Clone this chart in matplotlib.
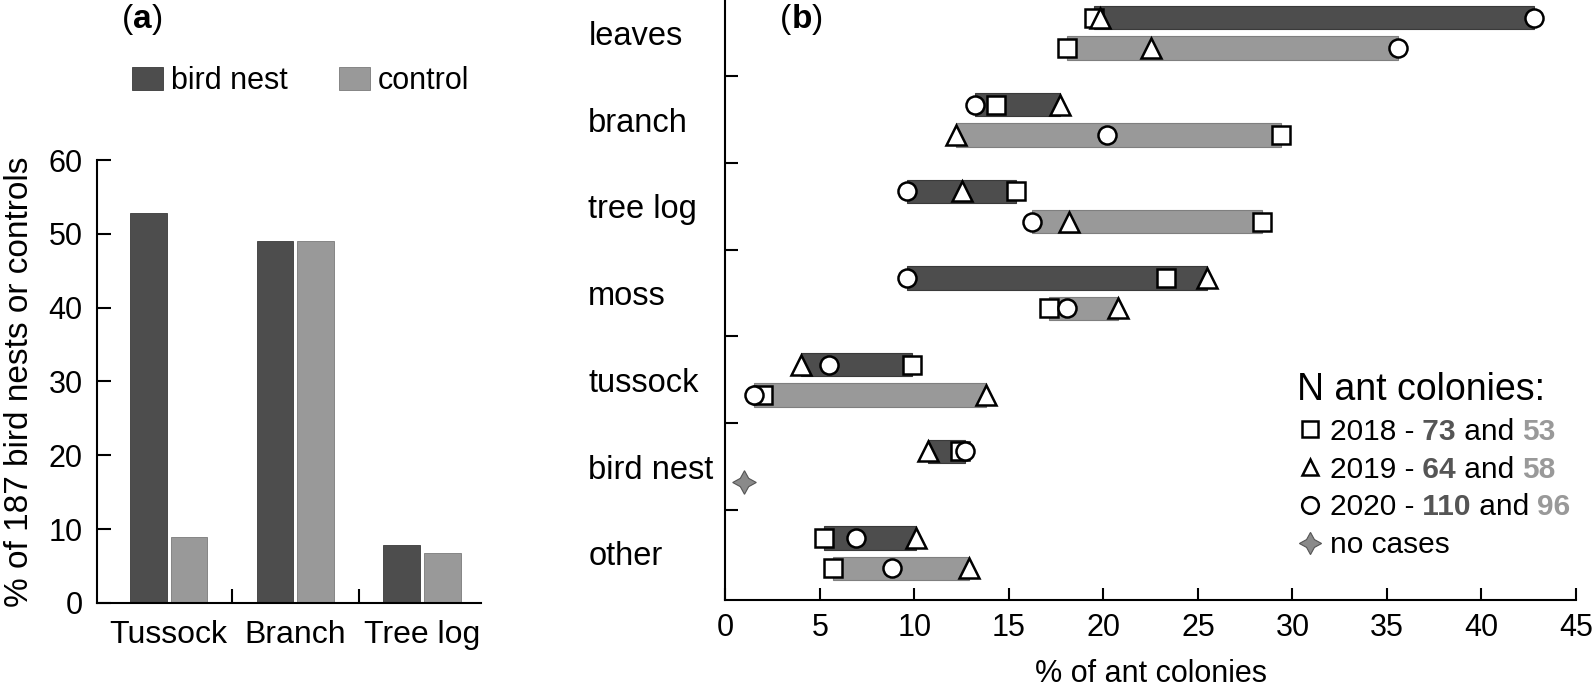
import matplotlib
matplotlib.use('Agg')
import matplotlib.pyplot as plt
import numpy as np
from matplotlib.lines import Line2D

plt.rcParams['font.family'] = ['Liberation Sans', 'DejaVu Sans']
narrow = ['Liberation Sans Narrow', 'Liberation Sans', 'DejaVu Sans']

DARK = '#4d4d4d'
LIGHT = '#999999'

# ---- panel (a) data ----
groups = ['Tussock', 'Branch', 'Tree log']
nest_pct = [52.8, 49.0, 7.9]
ctrl_pct = [8.9, 49.0, 6.8]

# ---- panel (b) data (top to bottom) ----
substrates = ['leaves', 'branch', 'tree log', 'moss', 'tussock', 'bird nest', 'other']
nest_2018 = [19.5, 14.3, 15.4, 23.3, 9.9, 12.4, 5.2]
nest_2019 = [19.8, 17.7, 12.5, 25.5, 4.0, 10.7, 10.1]
nest_2020 = [42.8, 13.2, 9.6, 9.6, 5.5, 12.7, 6.9]
ctrl_2018 = [18.1, 29.4, 28.4, 17.1, 2.0, np.nan, 5.7]
ctrl_2019 = [22.5, 12.2, 18.2, 20.8, 13.8, np.nan, 12.9]
ctrl_2020 = [35.6, 20.2, 16.2, 18.1, 1.5, np.nan, 8.8]
no_cases_x = [1.0]
no_cases_cat = ['bird nest']

n_nest = ['73', '64', '110']
n_ctrl = ['53', '58', '96']
years = ['2018', '2019', '2020']

fig = plt.figure(figsize=(15.94, 6.93), dpi=100)

# ================= (a) =================
ax1 = fig.add_axes([0.0606, 0.130, 0.2414, 0.639])
x = np.arange(len(groups))
ax1.bar(x - 0.16, nest_pct, 0.29, color=DARK, edgecolor='#3a3a3a', linewidth=0.6, label='bird nest')
ax1.bar(x + 0.16, ctrl_pct, 0.29, color=LIGHT, edgecolor='#7a7a7a', linewidth=0.6, label='control')
ax1.set_xlim(-0.57, 2.47)
ax1.set_ylim(0, 60)
ax1.set_yticks(range(0, 61, 10))
ax1.set_xticks(x)
ax1.set_xticklabels(groups, fontsize=23)
ax1.set_xticks([0.5, 1.5], minor=True)
ax1.tick_params(axis='x', which='major', length=0, pad=12)
ax1.tick_params(axis='x', which='minor', direction='in', length=10, width=1.5)
ax1.tick_params(axis='y', direction='in', length=10, width=1.5, labelsize=22, pad=10)
for s in ['top', 'right']:
    ax1.spines[s].set_visible(False)
for s in ['left', 'bottom']:
    ax1.spines[s].set_linewidth(1.5)
ax1.set_ylabel('% of 187 bird nests or controls', fontsize=24)
ax1.yaxis.set_label_coords(-0.16, 0.5)
ax1.legend(loc='center', bbox_to_anchor=(0.53, 1.178), ncol=2, frameon=False,
           fontsize=22, handlelength=1.0, handleheight=0.8, columnspacing=1.7,
           handletextpad=0.25)

t = fig.text(0.0765, 0.972, '(', fontsize=24, va='center')
ta = ax1.annotate('a', xy=(1, 0), xycoords=t, va='bottom', fontsize=24, fontweight='bold')
ax1.annotate(')', xy=(1, 0), xycoords=ta, va='bottom', fontsize=24)

# ================= (b) =================
ax2 = fig.add_axes([0.455, 0.134, 0.5337, 0.866])
ypos = np.arange(len(substrates))[::-1]
off = 0.175
bh = 0.27

nest = np.array([nest_2018, nest_2019, nest_2020])
ctrl = np.array([ctrl_2018, ctrl_2019, ctrl_2020])

nmin, nmax = nest.min(axis=0), nest.max(axis=0)
ax2.barh(ypos + off, nmax - nmin, bh, left=nmin, color=DARK, edgecolor='#3a3a3a', linewidth=0.8, zorder=2)
ok = ~np.isnan(ctrl[0])
cmin, cmax = np.nanmin(ctrl[:, ok], axis=0), np.nanmax(ctrl[:, ok], axis=0)
ax2.barh(ypos[ok] - off, cmax - cmin, bh, left=cmin, color=LIGHT, edgecolor='#7f7f7f', linewidth=0.8, zorder=2)

mk = dict(ls='none', mfc='white', mec='black', mew=1.8, zorder=3)
markers = ['s', '^', 'o']
sizes = [13, 14, 13]
for i in range(3):
    ax2.plot(nest[i], ypos + off, marker=markers[i], ms=sizes[i], **mk)
    ax2.plot(ctrl[i], ypos - off, marker=markers[i], ms=sizes[i], **mk)

star_y = [ypos[substrates.index(c)] - off for c in no_cases_cat]
ax2.plot(no_cases_x, star_y, ls='none', marker=(4, 1, 0), ms=17, mfc='#8a8a8a', mec='#555555', mew=0.8, zorder=3)

ax2.set_xlim(0, 45)
ax2.set_ylim(-0.54, 6.38)
ax2.set_xticks(range(0, 46, 5))
ax2.set_xticklabels([str(v) for v in range(0, 46, 5)], family=narrow, fontsize=22)
ax2.set_yticks(np.arange(0.5, 6, 1))
ax2.set_yticklabels([])
ax2.tick_params(axis='both', direction='in', length=9, width=1.5)
ax2.tick_params(axis='x', pad=9)
for s in ['top', 'right']:
    ax2.spines[s].set_visible(False)
for s in ['left', 'bottom']:
    ax2.spines[s].set_linewidth(1.5)
ax2.set_xlabel('% of ant colonies', family=narrow, fontsize=22, labelpad=12)

for name, yy in zip(substrates, ypos):
    ax2.text(-0.161, yy - 0.04, name, transform=ax2.get_yaxis_transform(), fontsize=23.5,
             ha='left', va='center')

handles = [Line2D([], [], marker=m, ms=12, ls='none', mfc='white', mec='black', mew=1.8)
           for m in markers]
handles.append(Line2D([], [], marker=(4, 1, 0), ms=16, ls='none', mfc='#8a8a8a', mec='#555555', mew=0.8))
labels = [y + ' -' for y in years] + ['no cases']
leg = ax2.legend(handles, labels, loc='lower left', bbox_to_anchor=(0.672, 0.068),
                 frameon=False, fontsize=21.5, title='N ant colonies:', title_fontsize=27,
                 alignment='left', handlelength=0.9, handletextpad=0.2,
                 labelspacing=0.33, borderpad=0, borderaxespad=0)

for i, txt in enumerate(leg.get_texts()[:3]):
    a1 = ax2.annotate(' ' + n_nest[i], xy=(1, 0), xycoords=txt, va='bottom', fontsize=21.5,
                      fontweight='bold', color='#555555', zorder=10)
    a2 = ax2.annotate(' and ', xy=(1, 0), xycoords=a1, va='bottom', fontsize=21.5, zorder=10)
    ax2.annotate(n_ctrl[i], xy=(1, 0), xycoords=a2, va='bottom', fontsize=21.5,
                 fontweight='bold', color='#999999', zorder=10)

tb = fig.text(0.4895, 0.972, '(', fontsize=24, va='center')
tbb = ax2.annotate('b', xy=(1, 0), xycoords=tb, va='bottom', fontsize=24, fontweight='bold')
ax2.annotate(')', xy=(1, 0), xycoords=tbb, va='bottom', fontsize=24)

fig.savefig('out.png', dpi=100)
